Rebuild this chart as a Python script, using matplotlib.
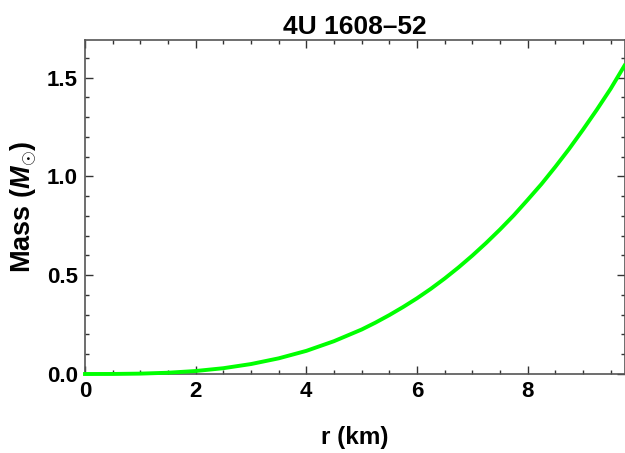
import numpy as np
import matplotlib
matplotlib.use('Agg')
import matplotlib.pyplot as plt
from matplotlib.ticker import MultipleLocator

plt.rcParams['font.family'] = ['Liberation Sans', 'DejaVu Sans']
plt.rcParams['font.weight'] = 'bold'
plt.rcParams['mathtext.fontset'] = 'custom'
plt.rcParams['mathtext.it'] = 'Liberation Sans:bold:italic'
plt.rcParams['mathtext.rm'] = 'Liberation Sans:bold'

# mass profile M(r) of the compact star
r_km = [0.0, 0.5, 1.0, 1.5, 2.0, 2.5, 3.0, 3.5, 4.0, 4.5, 5.0, 5.25,
        5.5, 5.75, 6.0, 6.25, 6.5, 6.75, 7.0, 7.25, 7.5, 7.75, 8.0, 8.25,
        8.5, 8.75, 9.0, 9.25, 9.5, 9.75]
mass = [0.0, 0.0002, 0.0019, 0.0064, 0.0151, 0.0293, 0.0503, 0.0792, 0.117, 0.166, 0.225, 0.260,
        0.298, 0.339, 0.383, 0.431, 0.483, 0.539, 0.599, 0.663, 0.731, 0.803, 0.881, 0.961,
        1.048, 1.139, 1.236, 1.337, 1.443, 1.56]

xticks = [0, 2, 4, 6, 8]
yticks = [0.0, 0.5, 1.0, 1.5]

fig = plt.figure(figsize=(6.25, 4.53), dpi=100)
ax = fig.add_axes([0.136, 0.1744, 0.864, 0.7373])

ax.plot(r_km, mass, color='#00ff00', lw=2.8, clip_on=False, zorder=3)

ax.set_xlim(0, 9.76)
ax.set_ylim(0, 1.69)
ax.set_xticks(xticks)
ax.set_yticks(yticks)
ax.set_xticklabels([str(v) for v in xticks])
ax.set_yticklabels(['%.1f' % v for v in yticks])
ax.xaxis.set_minor_locator(MultipleLocator(0.5))
ax.yaxis.set_minor_locator(MultipleLocator(0.1))

ax.tick_params(which='both', direction='in', top=True, right=True, colors='#333333',
               labelcolor='black', labelsize=16, width=1)
ax.tick_params(which='major', length=6, pad=5)
ax.tick_params(which='minor', length=3)
for s in ax.spines.values():
    s.set_color('#555555')
    s.set_linewidth(1.2)

ax.set_xlabel('r (km)', fontsize=17.5, fontweight='bold', labelpad=17)
ax.set_ylabel(r'Mass ($M_{\odot}$)', fontsize=19.5, fontweight='bold', labelpad=6)
ax.set_title('4U 1608\u201352', fontsize=19, fontweight='bold', pad=4)

fig.savefig('out.png', dpi=100)
